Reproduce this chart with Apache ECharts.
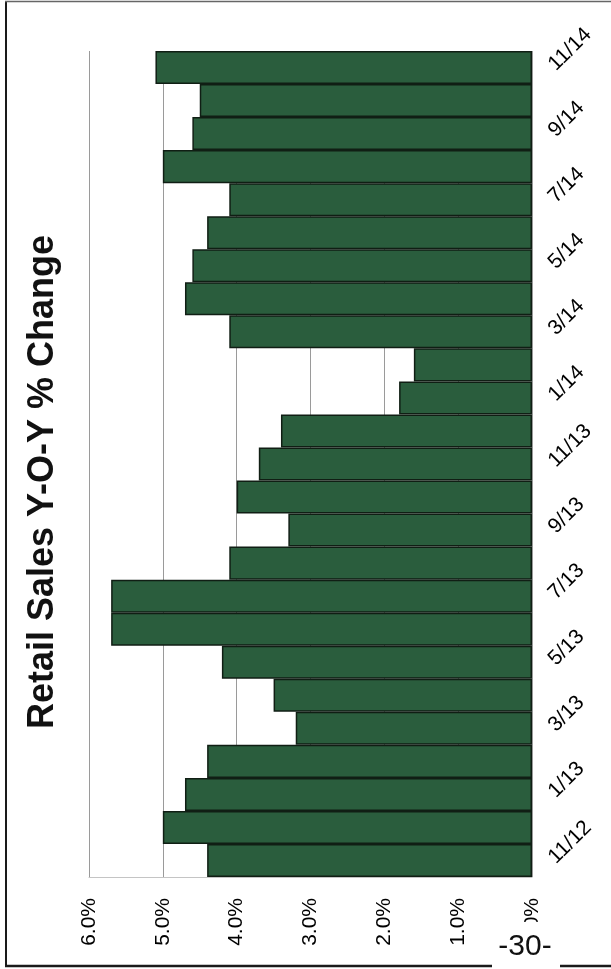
<!DOCTYPE html>
<html>
<head>
<meta charset="utf-8">
<script src="https://cdn.jsdelivr.net/npm/echarts@6/dist/echarts.min.js"></script>
<style>
  html, body { margin: 0; padding: 0; background: #fff; }
  #chart { width: 611px; height: 969px; }
</style>
</head>
<body>
<div id="chart"></div>
<script>
// Monthly retail sales, year-over-year % change (oldest first)
const months = [
  '11/12', '12/12', '1/13', '2/13', '3/13', '4/13', '5/13', '6/13', '7/13',
  '8/13', '9/13', '10/13', '11/13', '12/13', '1/14', '2/14', '3/14', '4/14',
  '5/14', '6/14', '7/14', '8/14', '9/14', '10/14', '11/14'
];
const yoyChange = [
  4.4, 5.0, 4.7, 4.4, 3.2, 3.5, 4.2, 5.7, 5.7,
  4.1, 3.3, 4.0, 3.7, 3.4, 1.8, 1.6, 4.1, 4.7,
  4.6, 4.4, 4.1, 5.0, 4.6, 4.5, 5.1
];
const pctTicks = [0, 1, 2, 3, 4, 5, 6];
const chartTitle = 'Retail Sales Y-O-Y % Change';
const pageNumber = '-30-';

const FONT = '"Liberation Sans", Arial, sans-serif';
const chart = echarts.init(document.getElementById('chart'), null, { renderer: 'canvas' });

chart.setOption({
  backgroundColor: '#ffffff',
  animation: false,
  grid: { left: 89, right: 79, top: 51, bottom: 92, containLabel: false },
  xAxis: {
    type: 'value',
    inverse: true,
    position: 'bottom',
    min: pctTicks[0],
    max: pctTicks[pctTicks.length - 1],
    interval: 1,
    axisLine: { show: true, lineStyle: { color: '#c4c4c4', width: 1 } },
    axisTick: { show: false },
    splitLine: { show: true, lineStyle: { color: '#9a9a9a', width: 1 } },
    axisLabel: {
      rotate: 90,
      margin: 21,
      color: '#000',
      fontFamily: FONT,
      fontSize: 21,
      formatter: v => v.toFixed(1) + '%'
    }
  },
  yAxis: {
    type: 'category',
    position: 'right',
    data: months,
    axisLine: { show: false },
    axisTick: { show: false },
    splitLine: { show: false },
    axisLabel: {
      interval: 1,
      rotate: 45,
      margin: 20,
      color: '#000',
      fontFamily: FONT,
      fontSize: 21
    }
  },
  series: [{
    type: 'bar',
    data: yoyChange,
    barCategoryGap: '0%',
    itemStyle: {
      color: '#2a5d3d',
      borderColor: '#101e14',
      borderWidth: 1.5
    }
  }],
  graphic: [
    // page frame
    { type: 'line', z: 90, shape: { x1: 6, y1: 1, x2: 6, y2: 967 }, style: { stroke: '#1a1a1a', lineWidth: 2 } },
    { type: 'line', z: 90, shape: { x1: 5, y1: 1.5, x2: 611, y2: 1.5 }, style: { stroke: '#666', lineWidth: 1.5 } },
    { type: 'line', z: 90, shape: { x1: 5, y1: 966, x2: 611, y2: 966 }, style: { stroke: '#1a1a1a', lineWidth: 2.5 } },
    // rotated title
    {
      type: 'text', z: 95, x: 43, y: 482, rotation: Math.PI / 2,
      style: {
        text: chartTitle, fill: '#111',
        font: 'bold 36px ' + FONT,
        align: 'center', verticalAlign: 'middle'
      }
    },
    // page number on a white patch
    { type: 'rect', z: 100, shape: { x: 492, y: 922, width: 68, height: 47 }, style: { fill: '#ffffff' } },
    {
      type: 'text', z: 101, x: 525, y: 947,
      style: {
        text: pageNumber, fill: '#111',
        font: '30px ' + FONT,
        align: 'center', verticalAlign: 'middle'
      }
    }
  ]
});
</script>
</body>
</html>
